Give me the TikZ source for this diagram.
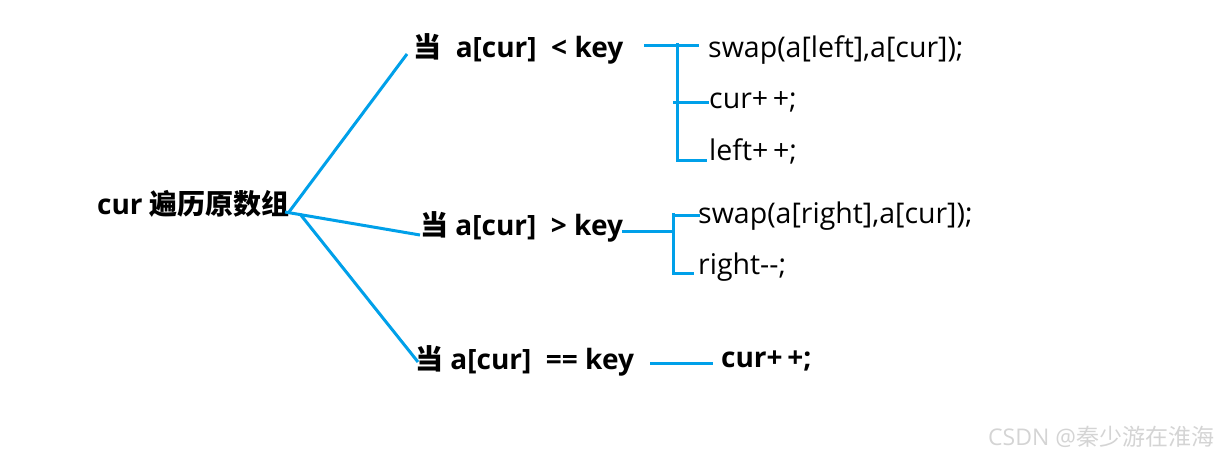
\documentclass[tikz,border=0pt]{standalone}
\usepackage{fontspec}
\setmainfont{Open Sans}
\newfontfamily\cjk{Noto Sans CJK SC}
\definecolor{lineblue}{HTML}{00A0E9}
\definecolor{wm}{HTML}{D4D4D4}
\begin{document}
\begin{tikzpicture}[x=1pt,y=-1pt,
  lbl/.style={anchor=west,inner sep=0pt,font=\fontsize{28}{32}\selectfont\bfseries},
  code/.style={anchor=west,inner sep=0pt,font=\fontsize{28.5}{32}\selectfont},
  conn/.style={draw=lineblue,line width=3pt}]
\useasboundingbox (0,0) rectangle (1223,457);
% root
\node[lbl] (root) at (97,204) {cur {\cjk 遍历原数组}};
\coordinate (hub) at (289,212);
% branch labels
\node[lbl] (c1) at (413,49) {{\cjk 当}\ \ a[cur]\ \ <\ key};
\node[lbl] (c2) at (420,227) {{\cjk 当} a[cur]\ \ >\ key};
\node[lbl] (c3) at (415,361) {{\cjk 当} a[cur]\ \ ==\ key};
\coordinate (e1) at (407,54);
\coordinate (e2) at (420,235);
\coordinate (e3) at (418,362);
\draw[conn] (hub) -- (e1);
\draw[conn] (285,212) -- (e2);
\draw[conn] (300,214) -- (e3);
% group 1
\node[code] (s1) at (708,50) {swap(a[left],a[cur]);};
\node[code] (s2) at (709,102) {cur+\,+;};
\node[code] (s3) at (709,151) {left+\,+;};
\coordinate (b1b) at (677,162);
\draw[conn] (644,46) -- (699,46);
\draw[conn] (677,43) -- (b1b);
\draw[conn] (673,103) -- (709,103);
\draw[conn] (677,161) -- (707,161);
% group 2
\node[code] (t1) at (698,216) {swap(a[right],a[cur]);};
\node[code] (t2) at (698,267) {right-{}-;};
\draw[conn] (622,231) -- (673,231);
\draw[conn] (673,213) -- (673,273) -- (694,273);
\draw[conn] (673,216) -- (700,216);
% group 3
\node[lbl] (u1) at (721,361) {cur+\,+;};
\draw[conn] (650,363) -- (713,363);
% watermark
\node[anchor=west,inner sep=0pt,text=wm,font=\fontsize{23}{26}\selectfont] (wmk) at (988,437) {CSDN @{\cjk 秦少游在淮海}};
\end{tikzpicture}
\end{document}
